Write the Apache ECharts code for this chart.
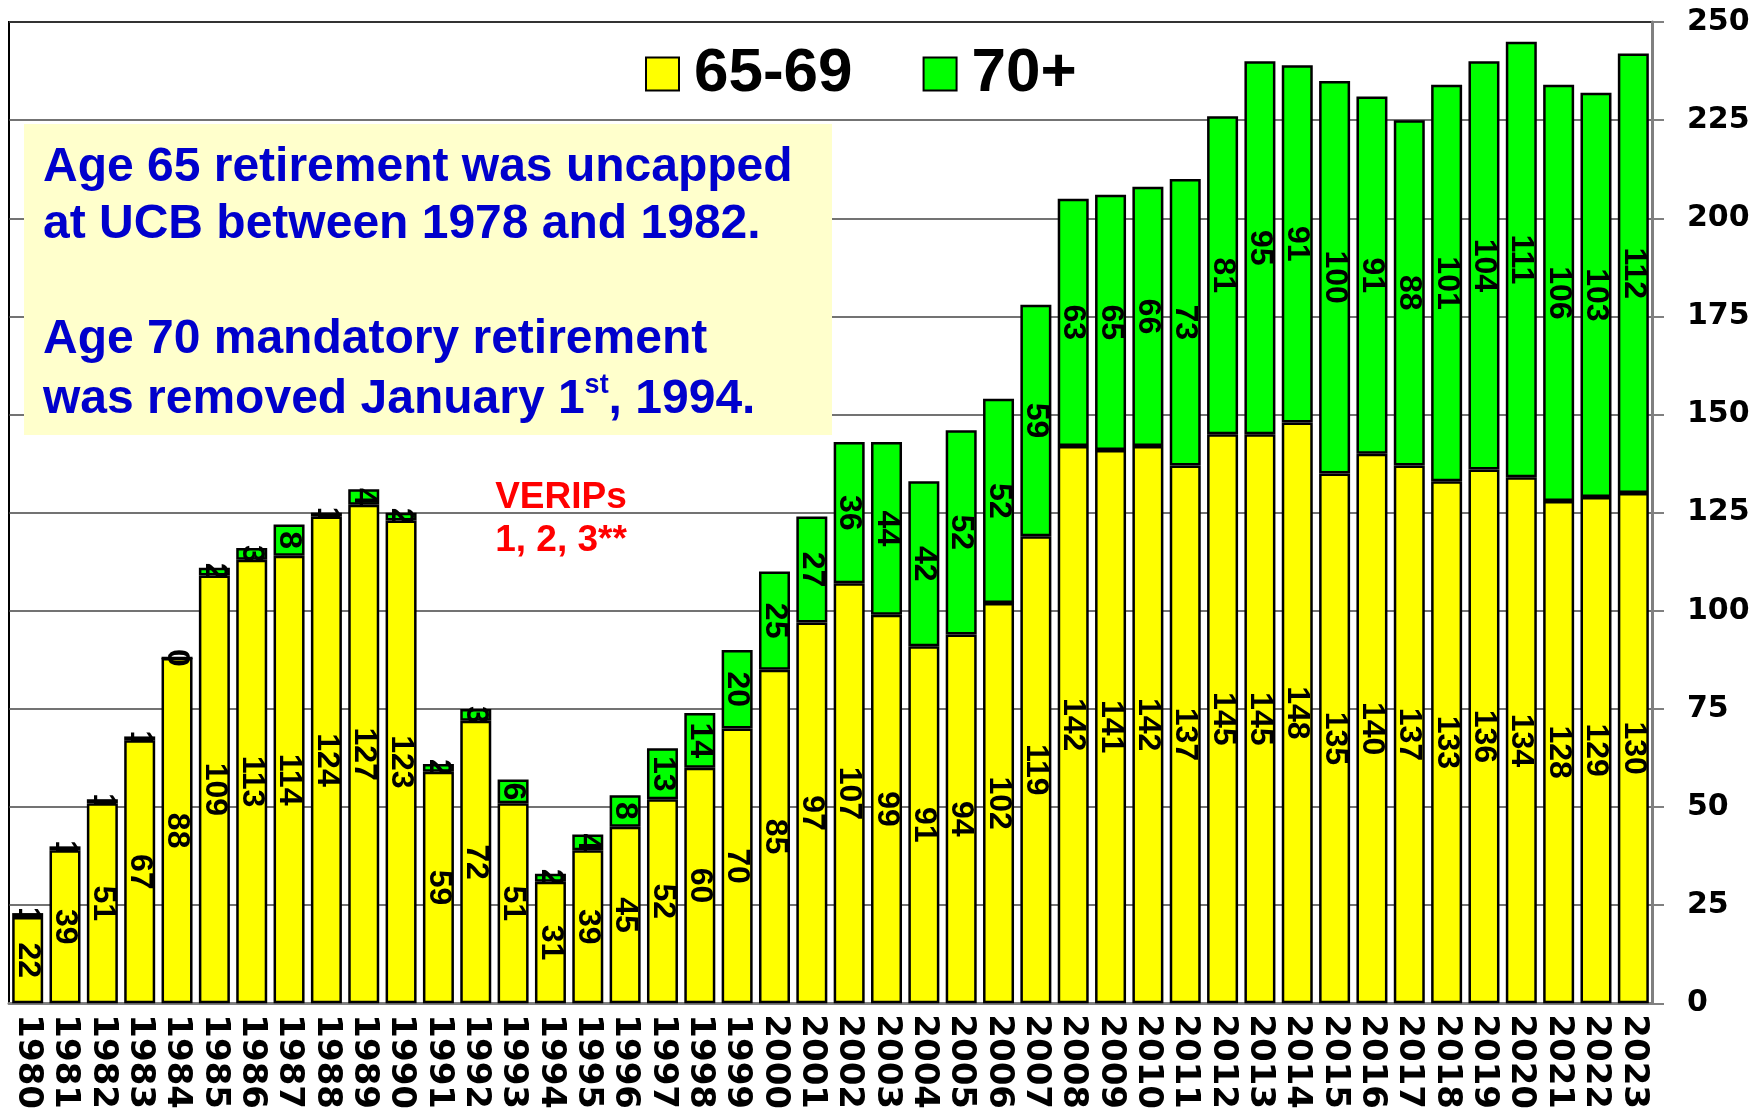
<!DOCTYPE html>
<html>
<head>
<meta charset="utf-8">
<script src="https://cdn.jsdelivr.net/npm/echarts@6/dist/echarts.min.js"></script>
<style>
html,body{margin:0;padding:0;background:#fff;}
#chart{width:1763px;height:1112px;}
</style>
</head>
<body>
<div id="chart"></div>
<script>
var years = ['1980','1981','1982','1983','1984','1985','1986','1987','1988','1989','1990','1991','1992','1993','1994','1995','1996','1997','1998','1999','2000','2001','2002','2003','2004','2005','2006','2007','2008','2009','2010','2011','2012','2013','2014','2015','2016','2017','2018','2019','2020','2021','2022','2023'];
var age6569 = [22,39,51,67,88,109,113,114,124,127,123,59,72,51,31,39,45,52,60,70,85,97,107,99,91,94,102,119,142,141,142,137,145,145,148,135,140,137,133,136,134,128,129,130];
var age70plus = [1,1,1,1,0,2,3,8,1,4,2,2,3,6,2,4,8,13,14,20,25,27,36,44,42,52,52,59,63,65,66,73,81,95,91,100,91,88,101,104,111,106,103,112];
var seriesNames = ['65-69','70+'];
var noteLines = ['Age 65 retirement was uncapped','at UCB between 1978 and 1982.','Age 70 mandatory retirement'];
var verips = ['VERIPs','1, 2, 3**'];

var chart = echarts.init(document.getElementById('chart'), null, {renderer:'canvas'});
var arial = "'Liberation Sans', Arial, sans-serif";
var black = "'DejaVu Sans','Arial Black',sans-serif";
var LABEL_FONT = 'bold 32px ' + arial;
var labelCfg = {
  show:true, position:'inside', rotate:-90, color:'#000',
  fontSize:32, fontWeight:'bold', fontFamily:arial
};
var noteStyle = {fill:'#0000CC', font:"bold 48px " + arial, verticalAlign:'middle', align:'left'};

var greenLabelData = years.map(function(y, i){ return [i, age6569[i], age70plus[i]]; });

chart.setOption({
  animation:false,
  backgroundColor:'#fff',
  grid:{left:9, right:111, top:22, bottom:105, show:true, borderColor:'#000', borderWidth:2, backgroundColor:'transparent'},
  legend:{
    left:640, top:38, icon:'rect', itemWidth:33, itemHeight:33, itemGap:70,
    data:seriesNames,
    textStyle:{fontSize:62, fontWeight:'bold', fontFamily:arial, color:'#000', padding:[0,0,0,10]}
  },
  xAxis:{
    type:'category', data:years,
    axisLine:{show:true, lineStyle:{color:'#808080', width:3}},
    axisTick:{show:false},
    axisLabel:{rotate:-90, margin:11, fontSize:34, fontWeight:'bold', fontFamily:black, color:'#000', interval:0},
    splitLine:{show:false}
  },
  yAxis:{
    type:'value', position:'right', min:0, max:250, interval:25,
    axisLine:{show:true, lineStyle:{color:'#808080', width:3}},
    axisTick:{show:true, length:12, lineStyle:{color:'#808080', width:2}},
    axisLabel:{margin:35, fontSize:30, fontWeight:'bold', fontFamily:black, color:'#000'},
    splitLine:{show:true, lineStyle:{color:'#444', width:1.5}}
  },
  series:[
    {name:seriesNames[0], type:'bar', stack:'t', data:age6569, barCategoryGap:'17%',
     itemStyle:{color:'#FFFF00', borderColor:'#000', borderWidth:2.5}, label:labelCfg},
    {name:seriesNames[1], type:'bar', stack:'t', data:age70plus, barCategoryGap:'17%',
     itemStyle:{color:'#00FF00', borderColor:'#000', borderWidth:2.5}, label:{show:false}},
    {name:'70+ labels', type:'custom', data:greenLabelData, z:5, silent:true,
     encode:{x:0, y:1},
     renderItem:function(params, api){
       var i = api.value(0), base = api.value(1), v = api.value(2);
       var top = api.coord([i, base + v]);
       var bot = api.coord([i, base]);
       var w = api.size([1, 0])[0] * 0.83;
       var el = {
         type:'group',
         children:[{
           type:'text', x:top[0], y:(top[1] + bot[1]) / 2, rotation:-Math.PI / 2,
           style:{text:String(v), font:LABEL_FONT, fill:'#000', align:'center', verticalAlign:'middle'}
         }]
       };
       if (v > 0) {
         el.clipPath = {type:'rect', shape:{x:top[0] - w / 2, y:top[1] - 4, width:w, height:bot[1] - top[1] + 5}};
       }
       return el;
     }
    }
  ],
  graphic:[
    {type:'rect', z:50, shape:{x:24, y:124, width:808, height:311}, style:{fill:'#FFFFCC'}},
    {type:'text', z:51, x:43, y:168, style:Object.assign({text:noteLines[0]}, noteStyle)},
    {type:'text', z:51, x:43, y:225, style:Object.assign({text:noteLines[1]}, noteStyle)},
    {type:'text', z:51, x:43, y:340, style:Object.assign({text:noteLines[2]}, noteStyle)},
    {type:'text', z:51, x:43, y:398, style:{
      text:'{a|was removed January 1}{s|st}{a|, 1994.}',
      verticalAlign:'middle', align:'left',
      rich:{
        a:{fill:'#0000CC', fontSize:48, fontWeight:'bold', fontFamily:arial, lineHeight:52, verticalAlign:'bottom'},
        s:{fill:'#0000CC', fontSize:27, fontWeight:'bold', fontFamily:arial, lineHeight:52, verticalAlign:'top'}
      }
    }},
    {type:'text', z:51, x:561, y:498, style:{text:verips[0], fill:'#FF0000', font:"bold 37px " + arial, align:'center', verticalAlign:'middle'}},
    {type:'text', z:51, x:561, y:541, style:{text:verips[1], fill:'#FF0000', font:"bold 37px " + arial, align:'center', verticalAlign:'middle'}}
  ]
});
</script>
</body>
</html>
